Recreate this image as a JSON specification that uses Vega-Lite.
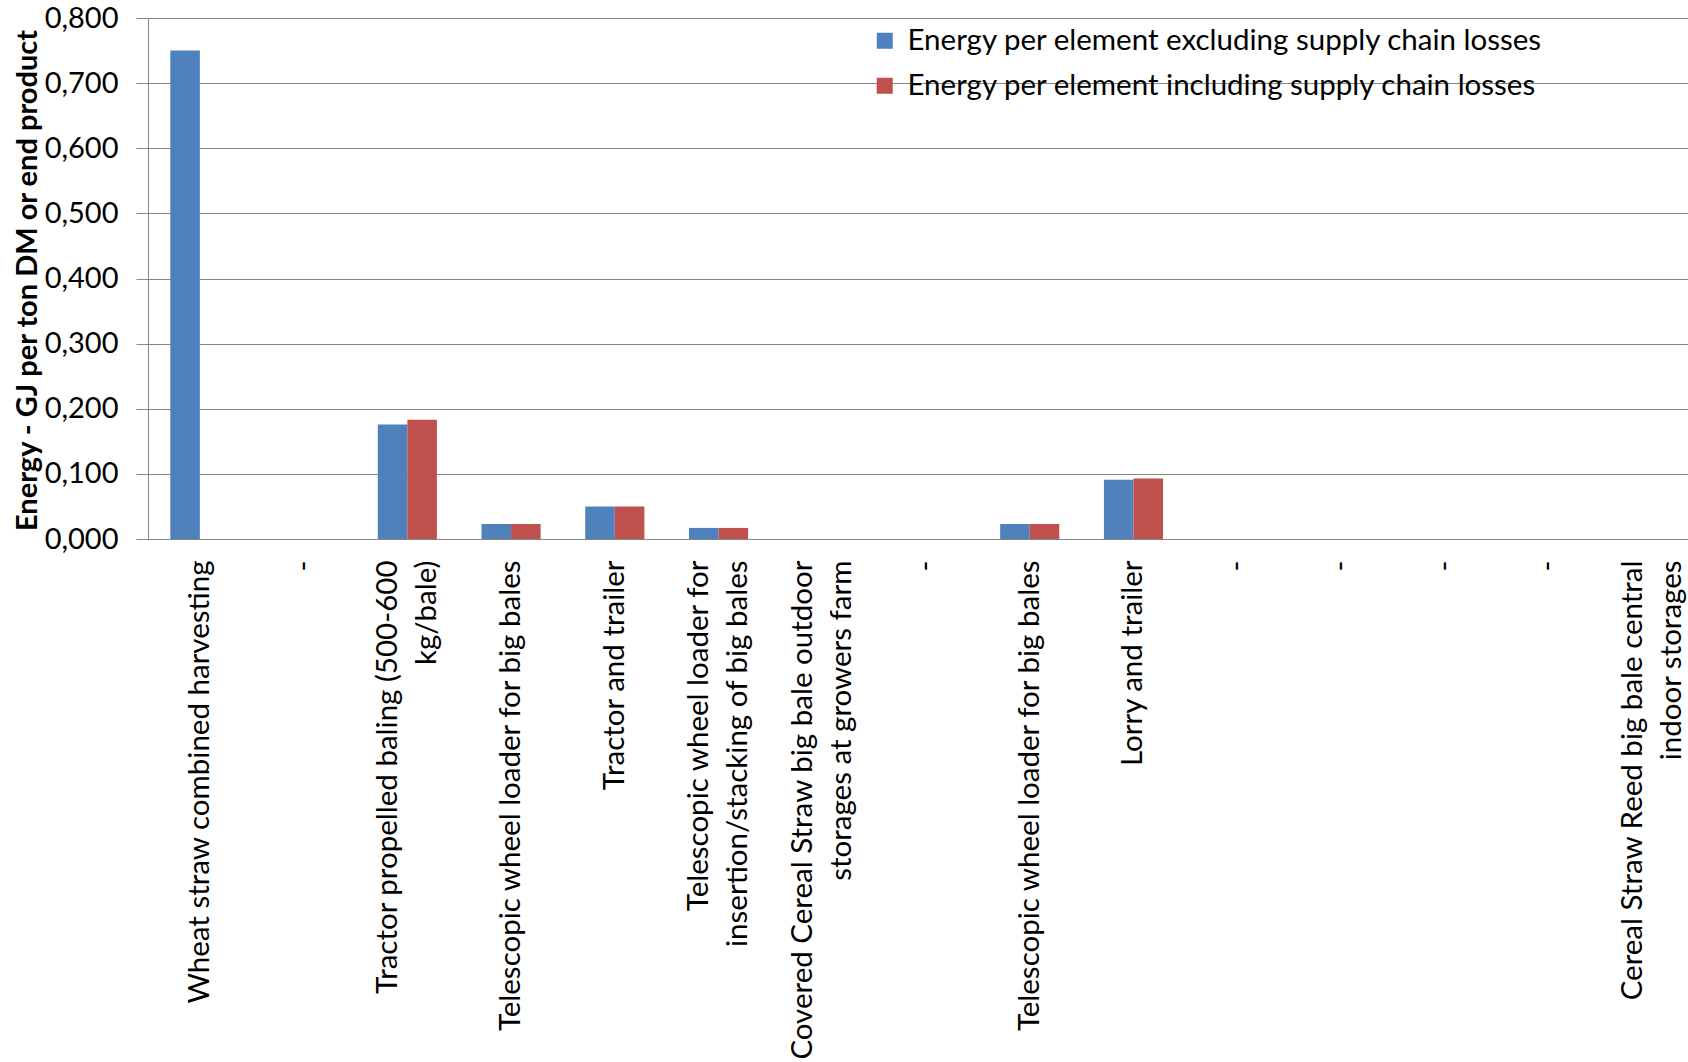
{
  "$schema": "https://vega.github.io/schema/vega-lite/v6.json",
  "width": 1556,
  "height": 521,
  "autosize": {"type": "none"},
  "padding": {"left": 148, "top": 18, "right": -16, "bottom": 523},
  "background": "white",
  "config": {
    "view": {"stroke": null},
    "font": "Lato",
    "axis": {"labelFont": "Lato", "titleFont": "Lato", "labelColor": "#000000", "titleColor": "#000000"}
  },
  "data": {
    "values": [
      {"step": "01 Wheat straw combined harvesting", "series": "Energy per element excluding supply chain losses", "energy": 0.750},
      {"step": "01 Wheat straw combined harvesting", "series": "Energy per element including supply chain losses", "energy": 0},
      {"step": "02 -", "series": "Energy per element excluding supply chain losses", "energy": 0},
      {"step": "02 -", "series": "Energy per element including supply chain losses", "energy": 0},
      {"step": "03 Tractor propelled baling (500-600|kg/bale)", "series": "Energy per element excluding supply chain losses", "energy": 0.176},
      {"step": "03 Tractor propelled baling (500-600|kg/bale)", "series": "Energy per element including supply chain losses", "energy": 0.183},
      {"step": "04 Telescopic wheel loader for big bales", "series": "Energy per element excluding supply chain losses", "energy": 0.023},
      {"step": "04 Telescopic wheel loader for big bales", "series": "Energy per element including supply chain losses", "energy": 0.023},
      {"step": "05 Tractor and trailer", "series": "Energy per element excluding supply chain losses", "energy": 0.050},
      {"step": "05 Tractor and trailer", "series": "Energy per element including supply chain losses", "energy": 0.050},
      {"step": "06 Telescopic wheel loader for|insertion/stacking of big bales", "series": "Energy per element excluding supply chain losses", "energy": 0.017},
      {"step": "06 Telescopic wheel loader for|insertion/stacking of big bales", "series": "Energy per element including supply chain losses", "energy": 0.017},
      {"step": "07 Covered Cereal Straw big bale outdoor|storages at growers farm", "series": "Energy per element excluding supply chain losses", "energy": 0},
      {"step": "07 Covered Cereal Straw big bale outdoor|storages at growers farm", "series": "Energy per element including supply chain losses", "energy": 0},
      {"step": "08 -", "series": "Energy per element excluding supply chain losses", "energy": 0},
      {"step": "08 -", "series": "Energy per element including supply chain losses", "energy": 0},
      {"step": "09 Telescopic wheel loader for big bales", "series": "Energy per element excluding supply chain losses", "energy": 0.023},
      {"step": "09 Telescopic wheel loader for big bales", "series": "Energy per element including supply chain losses", "energy": 0.023},
      {"step": "10 Lorry and trailer", "series": "Energy per element excluding supply chain losses", "energy": 0.091},
      {"step": "10 Lorry and trailer", "series": "Energy per element including supply chain losses", "energy": 0.093},
      {"step": "11 -", "series": "Energy per element excluding supply chain losses", "energy": 0},
      {"step": "11 -", "series": "Energy per element including supply chain losses", "energy": 0},
      {"step": "12 -", "series": "Energy per element excluding supply chain losses", "energy": 0},
      {"step": "12 -", "series": "Energy per element including supply chain losses", "energy": 0},
      {"step": "13 -", "series": "Energy per element excluding supply chain losses", "energy": 0},
      {"step": "13 -", "series": "Energy per element including supply chain losses", "energy": 0},
      {"step": "14 -", "series": "Energy per element excluding supply chain losses", "energy": 0},
      {"step": "14 -", "series": "Energy per element including supply chain losses", "energy": 0},
      {"step": "15 Cereal Straw Reed big bale central|indoor storages", "series": "Energy per element excluding supply chain losses", "energy": 0},
      {"step": "15 Cereal Straw Reed big bale central|indoor storages", "series": "Energy per element including supply chain losses", "energy": 0}
    ]
  },
  "mark": {"type": "bar"},
  "encoding": {
    "x": {
      "field": "step",
      "type": "nominal",
      "sort": null,
      "scale": {"paddingInner": 0.43, "paddingOuter": 0.215},
      "axis": {
        "title": null,
        "labelAngle": -90,
        "labelAlign": "right",
        "labelBaseline": "middle",
        "labelExpr": "split(substring(datum.value, 3), '|')",
        "labelFontSize": 29.5,
        "labelLineHeight": 39,
        "labelPadding": 21,
        "labelOffset": {"condition": {"test": "test(/[|]/, datum.value)", "value": -19.5}, "value": 0},
        "labelLimit": 0,
        "labelOverlap": false,
        "ticks": false,
        "domain": true,
        "domainColor": "#868686",
        "grid": false
      }
    },
    "xOffset": {"field": "series", "type": "nominal", "sort": null},
    "y": {
      "field": "energy",
      "type": "quantitative",
      "scale": {"domain": [0, 0.8], "nice": false},
      "axis": {
        "values": [0, 0.1, 0.2, 0.3, 0.4, 0.5, 0.6, 0.7, 0.8],
        "labelExpr": "replace(format(datum.value, '.3f'), '.', ',')",
        "labelFontSize": 29,
        "labelPadding": 18,
        "tickSize": 12,
        "tickColor": "#868686",
        "domainColor": "#868686",
        "gridColor": "#868686",
        "title": "Energy - GJ per ton DM or end product",
        "titleFontSize": 29,
        "titleFontWeight": "bold",
        "titleAngle": -90,
        "titleAlign": "center",
        "titleBaseline": "middle",
        "titleX": -121,
        "titleY": 262
      }
    },
    "color": {
      "field": "series",
      "type": "nominal",
      "sort": null,
      "scale": {"range": ["#4F81BD", "#C0504D"]},
      "legend": {
        "title": null,
        "orient": "none",
        "legendX": 722,
        "legendY": 8,
        "direction": "vertical",
        "padding": 0,
        "symbolType": "square",
        "symbolSize": 256,
        "symbolStrokeWidth": 0,
        "labelFontSize": 29.5,
        "labelFont": "Lato",
        "labelColor": "#000000",
        "labelOffset": 8,
        "labelLimit": 0,
        "rowPadding": 14
      }
    }
  }
}
